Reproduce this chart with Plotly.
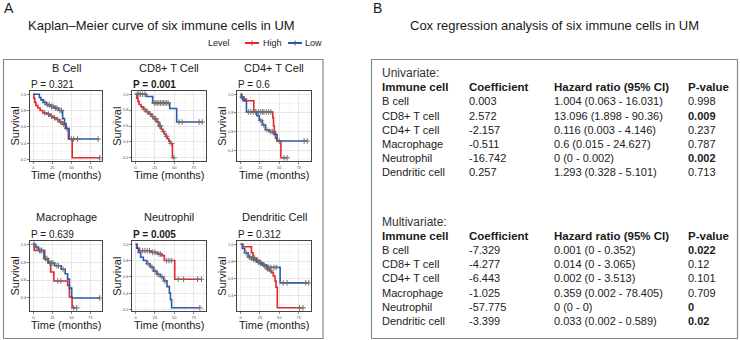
import plotly.graph_objects as go

W, H = 740, 340
FONT = "Liberation Sans, Arial, sans-serif"
RED = "#E8262A"
BLUE = "#2B5BA8"

# ---------------- Panel A: Kaplan-Meier data ----------------
km_titles = ["B Cell", "CD8+ T Cell", "CD4+ T Cell", "Macrophage", "Neutrophil", "Dendritic Cell"]
km_pvalues = ["0.321", "0.001", "0.6", "0.639", "0.005", "0.312"]
x_ticks = [0, 25, 50, 75]
y_ticks = [0.2, 0.4, 0.6, 0.8, 1.0]
legend_levels = ["High", "Low"]

bcell_high_t = [0, 0.8, 2, 3.5, 6, 9, 12.5, 18, 22, 26, 30, 34, 38, 42, 46, 51]
bcell_high_s = [1.0, 0.95, 0.9, 0.86, 0.83, 0.8, 0.77, 0.755, 0.73, 0.71, 0.69, 0.66, 0.63, 0.58, 0.45, 0.22]
bcell_high_c = [15, 20, 24, 28, 32, 36, 40, 44, 87]
bcell_low_t = [0, 8, 10, 13, 17, 22, 27, 33, 38.5, 41, 43, 47]
bcell_low_s = [1.0, 0.96, 0.93, 0.9, 0.87, 0.85, 0.83, 0.8, 0.7, 0.64, 0.58, 0.45]
bcell_low_c = [15, 19, 21, 24, 26, 29, 31, 35, 37, 50, 53, 58, 85]

cd8_high_t = [0, 1.5, 3, 4.5, 7, 10, 13, 17, 21, 24, 27, 30, 33, 35, 37, 39, 41, 43, 44.5, 47.5]
cd8_high_s = [1.0, 0.95, 0.91, 0.87, 0.84, 0.81, 0.78, 0.75, 0.72, 0.69, 0.65, 0.6, 0.56, 0.53, 0.5, 0.47, 0.44, 0.41, 0.38, 0.2]
cd8_high_c = [11, 15, 19, 22, 25, 26, 29, 31, 32, 36, 40, 46, 49.5]
cd8_low_t = [0, 14, 22, 44, 53]
cd8_low_s = [1.0, 0.97, 0.89, 0.82, 0.65]
cd8_low_c = [2, 4, 6, 9, 12, 24, 26, 28, 30, 32, 34, 36, 38, 40, 42, 56, 60, 82, 86]

cd4_high_t = [0, 1, 4, 7, 17, 41.5, 42.5, 43.5, 45, 47, 52]
cd4_high_s = [1.0, 0.97, 0.95, 0.93, 0.81, 0.75, 0.66, 0.6, 0.53, 0.5, 0.32]
cd4_high_c = [2, 5, 20, 23, 26, 28, 30, 33, 36, 39, 56, 60]
cd4_low_t = [0, 1, 3, 7.5, 21, 24, 28, 32, 37, 43, 47]
cd4_low_s = [1.0, 0.96, 0.93, 0.81, 0.77, 0.72, 0.67, 0.62, 0.6, 0.57, 0.5]
cd4_low_c = [10, 13, 16, 19, 26, 30, 34, 39, 41, 50, 82, 86]

macro_high_t = [0, 1.3, 15, 19.4, 22.8, 27, 45, 47.4, 50.9]
macro_high_s = [1.0, 0.93, 0.83, 0.8, 0.69, 0.59, 0.54, 0.41, 0.29]
macro_high_c = [8, 11, 32, 36, 53, 57]
macro_low_t = [0, 2.2, 6.5, 14, 19.4, 28, 36.6, 41.8, 45, 47.4, 50.4]
macro_low_s = [1.0, 0.97, 0.93, 0.84, 0.79, 0.76, 0.72, 0.67, 0.61, 0.51, 0.40]
macro_low_c = [1, 4, 9, 11, 16, 18, 22, 24, 26, 31, 33, 39, 87]

neutro_high_t = [0, 2, 5, 20, 28, 34, 37, 50.5]
neutro_high_s = [1.0, 0.95, 0.92, 0.9, 0.88, 0.86, 0.8, 0.57]
neutro_high_c = [9, 12, 15, 18, 22, 25, 30, 32, 40, 43, 46, 55, 62, 80, 85]
neutro_low_t = [0, 1.3, 3.5, 6.5, 10, 14.4, 18.7, 23, 27.5, 31.8, 36.2, 40.5, 43.6, 45, 46.5]
neutro_low_s = [1.0, 0.95, 0.9, 0.84, 0.8, 0.76, 0.72, 0.67, 0.63, 0.6, 0.55, 0.48, 0.4, 0.32, 0.22]
neutro_low_c = [16, 21, 25, 29, 34, 38, 83]

dendritic_high_t = [0, 3, 14, 16, 20.4, 24.8, 29, 33.5, 37.8, 40, 42.2, 44.4, 45.7, 47.4]
dendritic_high_s = [1.0, 0.97, 0.9, 0.84, 0.81, 0.78, 0.75, 0.71, 0.69, 0.67, 0.63, 0.57, 0.5, 0.26]
dendritic_high_c = [18, 22, 26, 31, 35, 39, 76, 80.5]
dendritic_low_t = [0, 2.2, 5.2, 9.6, 14, 20.4, 27, 33.5, 51]
dendritic_low_s = [1.0, 0.95, 0.9, 0.85, 0.82, 0.79, 0.76, 0.73, 0.55]
dendritic_low_c = [7, 11, 12, 17, 23, 25, 30, 36, 39, 43, 46, 55, 60, 84, 88]

# ---------------- Panel B: Cox regression table ----------------
cox_header = ["Immune cell", "Coefficient", "Hazard ratio (95% CI)", "P-value"]
cox_cells = ["B cell", "CD8+ T cell", "CD4+ T cell", "Macrophage", "Neutrophil", "Dendritic cell"]
uni_coef = ["0.003", "2.572", "-2.157", "-0.511", "-16.742", "0.257"]
uni_hr = ["1.004 (0.063 - 16.031)", "13.096 (1.898 - 90.36)", "0.116 (0.003 - 4.146)",
          "0.6 (0.015 - 24.627)", "0 (0 - 0.002)", "1.293 (0.328 - 5.101)"]
uni_p = ["0.998", "0.009", "0.237", "0.787", "0.002", "0.713"]
multi_coef = ["-7.329", "-4.277", "-6.443", "-1.025", "-57.775", "-3.399"]
multi_hr = ["0.001 (0 - 0.352)", "0.014 (0 - 3.065)", "0.002 (0 - 3.513)",
            "0.359 (0.002 - 78.405)", "0 (0 - 0)", "0.033 (0.002 - 0.589)"]
multi_p = ["0.022", "0.12", "0.101", "0.709", "0", "0.02"]

# ---------------- helpers ----------------
def px(x):
    return x / W

def py(y):
    return 1 - y / H

def step_at(ts, ss, c):
    v = ss[0]
    for t, s in zip(ts, ss):
        if t <= c:
            v = s
    return v

panels = [
    (bcell_high_t, bcell_high_s, bcell_high_c, bcell_low_t, bcell_low_s, bcell_low_c),
    (cd8_high_t, cd8_high_s, cd8_high_c, cd8_low_t, cd8_low_s, cd8_low_c),
    (cd4_high_t, cd4_high_s, cd4_high_c, cd4_low_t, cd4_low_s, cd4_low_c),
    (macro_high_t, macro_high_s, macro_high_c, macro_low_t, macro_low_s, macro_low_c),
    (neutro_high_t, neutro_high_s, neutro_high_c, neutro_low_t, neutro_low_s, neutro_low_c),
    (dendritic_high_t, dendritic_high_s, dendritic_high_c, dendritic_low_t, dendritic_low_s, dendritic_low_c),
]

col_px = [(30, 102.3), (132.3, 205.7), (237.3, 310.7)]
row_px = [(91, 161), (241, 311)]

fig = go.Figure()
layout = dict(
    width=W, height=H, margin=dict(l=0, r=0, t=0, b=0),
    paper_bgcolor="white", plot_bgcolor="white", showlegend=False,
    font=dict(family=FONT, color="#1a1a1a"),
)
annotations = []
shapes = []

for i, (ht, hs, hc, lt, ls, lc) in enumerate(panels):
    r, c = divmod(i, 3)
    xa = "x" if i == 0 else f"x{i+1}"
    ya = "y" if i == 0 else f"y{i+1}"
    xkey = "xaxis" if i == 0 else f"xaxis{i+1}"
    ykey = "yaxis" if i == 0 else f"yaxis{i+1}"
    x0, x1 = col_px[c]
    yt, yb = row_px[r]
    smin = min(min(hs), min(ls))
    span = 1.0 - smin
    yr = [smin - 0.05 * span, 1.0 + 0.05 * span]
    yt_vals = [v for v in y_ticks if yr[0] <= v <= yr[1]]
    minor_y = [round(v + 0.1, 2) for v in [0.0, 0.2, 0.4, 0.6, 0.8] if yr[0] <= v + 0.1 <= yr[1]]
    layout[xkey] = dict(
        domain=[px(x0), px(x1)], anchor=ya, range=[-4.3, 90.5],
        tickvals=x_ticks, ticktext=[str(v) for v in x_ticks],
        tickfont=dict(size=4, color="#4d4d4d"), ticks="outside", ticklen=2,
        tickcolor="#333333", tickwidth=0.6,
        showgrid=True, gridcolor="#DEDEDE", gridwidth=0.7,
        minor=dict(tickvals=[12.5, 37.5, 62.5, 87.5], showgrid=True, gridcolor="#EFEFEF", gridwidth=0.5),
        showline=True, mirror=True, linecolor="#444444", linewidth=1, zeroline=False, fixedrange=True,
    )
    layout[ykey] = dict(
        domain=[py(yb), py(yt)], anchor=xa, range=yr,
        tickvals=yt_vals, ticktext=[f"{v:.1f}" for v in yt_vals],
        tickfont=dict(size=4, color="#4d4d4d"), ticks="outside", ticklen=2,
        tickcolor="#333333", tickwidth=0.6,
        showgrid=True, gridcolor="#DEDEDE", gridwidth=0.7,
        minor=dict(tickvals=minor_y, showgrid=True, gridcolor="#EFEFEF", gridwidth=0.5),
        showline=True, mirror=True, linecolor="#444444", linewidth=1, zeroline=False, fixedrange=True,
    )
    for ts, ss, cs, col, name in [(ht, hs, hc, RED, legend_levels[0]), (lt, ls, lc, BLUE, legend_levels[1])]:
        tend = max(max(cs), ts[-1])
        fig.add_trace(go.Scatter(
            x=ts + [tend], y=ss + [ss[-1]], mode="lines", line=dict(color=col, width=1.6, shape="hv"),
            xaxis=xa, yaxis=ya, name=name, hoverinfo="skip",
        ))
        fig.add_trace(go.Scatter(
            x=cs, y=[step_at(ts, ss, v) for v in cs], mode="markers",
            marker=dict(symbol="cross-thin", size=4, line=dict(width=1, color="#707070")),
            xaxis=xa, yaxis=ya, name=name, hoverinfo="skip",
        ))
    cx = (x0 + x1) / 2
    title_y = 68 if r == 0 else 217
    annotations.append(dict(text=km_titles[i], x=px(cx), y=py(title_y), xref="paper", yref="paper",
                            showarrow=False, font=dict(size=11), xanchor="center", yanchor="middle"))
    pv = km_pvalues[i]
    ptxt = f"<b>P = {pv}</b>" if float(pv) < 0.05 else f"P = {pv}"
    annotations.append(dict(text=ptxt, x=px(x0 - 1), y=py(yt - 6.5), xref="paper", yref="paper",
                            showarrow=False, font=dict(size=10), xanchor="left", yanchor="middle"))
    annotations.append(dict(text="Survival", x=px(x0 - 15.5), y=py((yt + yb) / 2), xref="paper", yref="paper",
                            showarrow=False, font=dict(size=11), textangle=-90, xanchor="center", yanchor="middle"))
    annotations.append(dict(text="Time (months)", x=px(cx), y=py(yb + 14), xref="paper", yref="paper",
                            showarrow=False, font=dict(size=11), xanchor="center", yanchor="middle"))

# panel labels and titles
annotations += [
    dict(text="A", x=px(2), y=py(8), xanchor="left", yanchor="middle", font=dict(size=14)),
    dict(text="Kaplan–Meier curve of six immune cells in UM", x=px(161), y=py(26), xanchor="center",
         yanchor="middle", font=dict(size=13)),
    dict(text="B", x=px(371), y=py(8), xanchor="left", yanchor="middle", font=dict(size=14)),
    dict(text="Cox regression analysis of six immune cells in UM", x=px(554), y=py(26), xanchor="center",
         yanchor="middle", font=dict(size=13)),
    dict(text="Level", x=px(218.5), y=py(43), xanchor="center", yanchor="middle", font=dict(size=9)),
    dict(text=legend_levels[0], x=px(261), y=py(43), xanchor="left", yanchor="middle", font=dict(size=9)),
    dict(text=legend_levels[1], x=px(303), y=py(43), xanchor="left", yanchor="middle", font=dict(size=9)),
]
for a in annotations:
    a.setdefault("xref", "paper")
    a.setdefault("yref", "paper")
    a.setdefault("showarrow", False)

# legend glyphs
for (lx0, lx1), col in [((245, 259), RED), ((288, 302), BLUE)]:
    shapes.append(dict(type="line", xref="paper", yref="paper", x0=px(lx0), x1=px(lx1), y0=py(43), y1=py(43),
                       line=dict(color=col, width=2)))
    mx = (lx0 + lx1) / 2
    shapes.append(dict(type="line", xref="paper", yref="paper", x0=px(mx), x1=px(mx), y0=py(40.5), y1=py(45.5),
                       line=dict(color=col, width=1)))

# panel frames
shapes.append(dict(type="rect", xref="paper", yref="paper", x0=px(3.5), x1=px(323), y0=py(338.5), y1=py(59.5),
                   line=dict(color="#8a8a8a", width=1.2), fillcolor="rgba(0,0,0,0)", layer="below"))
shapes.append(dict(type="rect", xref="paper", yref="paper", x0=px(371.5), x1=px(737.5), y0=py(338.5), y1=py(59.5),
                   line=dict(color="#8a8a8a", width=1.2), fillcolor="rgba(0,0,0,0)", layer="below"))

# Cox table
col_x = [380, 467, 552, 686]
row_h = 14.2

def add_table(label, y0, coefs, hrs, ps):
    annotations.append(dict(text=label, x=px(col_x[0]), y=py(y0), xref="paper", yref="paper", showarrow=False,
                            xanchor="left", yanchor="middle", font=dict(size=12, color="#333333")))
    for j, h in enumerate(cox_header):
        annotations.append(dict(text=f"<b>{h}</b>", x=px(col_x[j]), y=py(y0 + row_h), xref="paper", yref="paper",
                                showarrow=False, xanchor="left", yanchor="middle", font=dict(size=11.5)))
    for k in range(len(cox_cells)):
        yy = y0 + row_h * (k + 2)
        pv = ps[k]
        ptxt = f"<b>{pv}</b>" if float(pv) < 0.05 else pv
        for j, t in enumerate([cox_cells[k], coefs[k], hrs[k], ptxt]):
            annotations.append(dict(text=t, x=px(col_x[j]), y=py(yy), xref="paper", yref="paper", showarrow=False,
                                    xanchor="left", yanchor="middle", font=dict(size=11, color="#222222")))

add_table("Univariate:", 73, uni_coef, uni_hr, uni_p)
add_table("Multivariate:", 221.5, multi_coef, multi_hr, multi_p)

layout["annotations"] = annotations
layout["shapes"] = shapes
fig.update_layout(**layout)
fig.write_html("out.html", config={"displayModeBar": False, "staticPlot": True},
               post_script="document.body.style.margin='0';document.body.style.overflow='hidden';")
